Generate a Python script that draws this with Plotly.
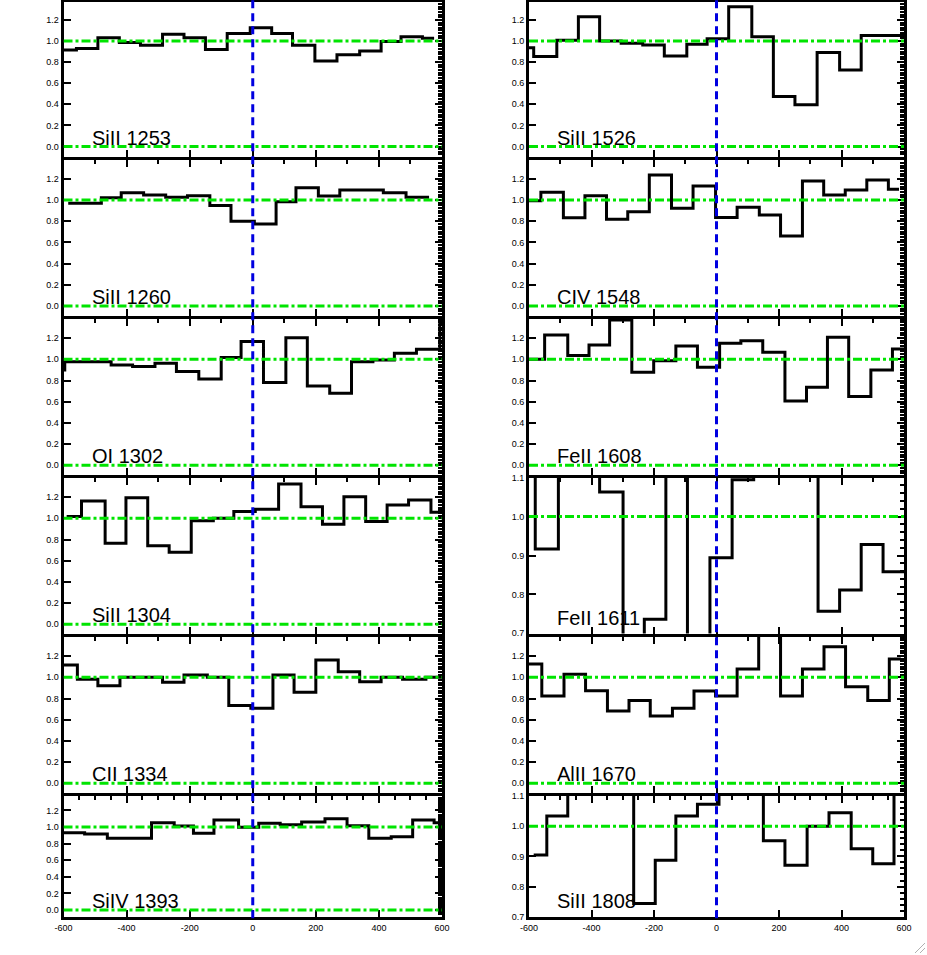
import plotly.graph_objects as go

# ---------------- data (velocity bin edges in km/s, normalized flux) ----------------
x_tick_values = [-600, -400, -200, 0, 200, 400, 600]
y_ticks_wide = [0.0, 0.2, 0.4, 0.6, 0.8, 1.0, 1.2]
y_ticks_narrow = [0.7, 0.8, 0.9, 1.0, 1.1]

sil1253_edges = [-620, -559, -491, -423, -356, -286, -218, -150, -81, -8, 60, 126, 197, 267, 339, 407, 470, 538, 575]
sil1253_flux = [0.915, 0.93, 1.03, 0.985, 0.96, 1.063, 1.03, 0.92, 1.07, 1.126, 1.07, 0.96, 0.81, 0.87, 0.905, 0.995, 1.04, 1.025]

sil1260_edges = [-585, -480, -417, -346, -276, -207, -136, -69, 5, 74, 137, 208, 276, 344, 414, 486, 559]
sil1260_flux = [0.969, 1.022, 1.069, 1.047, 1.025, 1.041, 0.947, 0.80, 0.774, 0.984, 1.116, 1.038, 1.094, 1.094, 1.069, 1.025]

oi1302_edges = [-620, -596, -449, -381, -310, -242, -171, -100, -37, 34, 105, 173, 244, 313, 381, 449, 519, 593, 620]
oi1302_flux = [0.90, 0.978, 0.947, 0.931, 0.962, 0.884, 0.814, 1.016, 1.167, 0.78, 1.204, 0.748, 0.679, 0.978, 0.994, 1.057, 1.094, 1.34]

sil1304_edges = [-590, -543, -468, -402, -333, -265, -195, -125, -60, 8, 82, 153, 221, 289, 358, 426, 494, 565, 620]
sil1304_flux = [1.016, 1.164, 0.764, 1.195, 0.742, 0.679, 0.978, 1.0, 1.063, 1.085, 1.324, 1.11, 0.943, 1.204, 0.969, 1.126, 1.173, 1.057]

cii1334_edges = [-620, -556, -491, -421, -354, -286, -218, -144, -76, -6, 64, 131, 200, 271, 339, 407, 475, 549, 620]
cii1334_flux = [1.116, 0.981, 0.921, 1.0, 1.0, 0.953, 1.022, 1.0, 0.733, 0.708, 1.022, 0.858, 1.164, 1.053, 0.959, 1.0, 0.981, 1.0]

siv1393_edges = [-620, -533, -461, -321, -249, -188, -123, -45, 19, 87, 155, 229, 299, 368, 439, 507, 575, 620]
siv1393_flux = [0.932, 0.916, 0.863, 1.052, 1.012, 0.924, 1.084, 0.996, 1.044, 1.028, 1.06, 1.10, 1.016, 0.863, 0.884, 1.084, 1.052]

sil1526_edges = [-620, -585, -511, -442, -374, -305, -236, -167, -95, -30, 39, 113, 182, 251, 322, 394, 463, 620]
sil1526_flux = [0.937, 0.852, 1.006, 1.23, 1.0, 0.978, 0.962, 0.858, 0.969, 1.022, 1.324, 1.041, 0.475, 0.396, 0.89, 0.726, 1.053]

civ1548_edges = [-620, -562, -490, -421, -352, -284, -215, -144, -75, -3, 66, 137, 205, 275, 343, 412, 481, 550, 584]
civ1548_flux = [0.994, 1.072, 0.833, 1.041, 0.818, 0.89, 1.236, 0.921, 1.132, 0.836, 0.931, 0.858, 0.66, 1.179, 1.047, 1.094, 1.189, 1.101]

feii1608_edges = [-620, -550, -476, -408, -342, -271, -201, -130, -61, 10, 78, 148, 219, 288, 355, 423, 494, 563, 620]
feii1608_flux = [1.0, 1.23, 1.035, 1.135, 1.371, 0.877, 0.987, 1.126, 0.925, 1.151, 1.176, 1.066, 0.607, 0.736, 1.208, 0.648, 0.899, 1.097]

feii1611_edges = [-620, -580, -506, -374, -299, -231, -162, -93, -21, 50, 119, 325, 394, 463, 533, 620]
feii1611_flux = [1.3, 0.917, 1.3, 1.063, 0.5, 0.736, 1.3, 0.5, 0.894, 1.095, 1.3, 0.757, 0.811, 0.928, 0.858]

alii1670_edges = [-620, -559, -488, -419, -349, -280, -212, -141, -72, -3, 66, 135, 205, 275, 344, 413, 484, 553, 590]
alii1670_flux = [1.126, 0.824, 1.028, 0.874, 0.682, 0.78, 0.635, 0.708, 0.871, 0.824, 1.079, 1.5, 0.824, 1.079, 1.289, 0.912, 0.78, 1.173]

sil1808_edges = [-585, -543, -476, -265, -196, -130, -61, 8, 150, 219, 290, 360, 431, 500, 568, 620]
sil1808_flux = [0.905, 1.034, 1.3, 0.744, 0.887, 1.034, 1.073, 1.3, 0.952, 0.871, 1.0, 1.045, 0.925, 0.876, 1.3]

labels = ["SiII 1253", "SiII 1260", "OI 1302", "SiII 1304", "CII 1334", "SiIV 1393",
          "SiII 1526", "CIV 1548", "FeII 1608", "FeII 1611", "AlII 1670", "SiII 1808"]

# ---------------- layout geometry (pixels of the 927x955 page) ----------------
FIG_W, FIG_H = 927, 955
LW = 3                                   # frame line width
col_px = [(63.5, 442.0), (529.0, 904.0)]  # plot-area edges (frame lines sit just outside)
row_bounds = [0, 158, 317, 476, 635, 794.5, 918.3]
# pixel of flux 0.0 and pixels per unit flux, per row (wide panels)
zero_px = [146.5, 306.0, 465.3, 624.3, 783.3, 910.0]
scale_px = [105.5, 106.0, 106.0, 106.0, 106.0, 83.0]
NARROW_LIMITS = (0.6995, 1.1005)

panels = [
    (labels[0], sil1253_edges, sil1253_flux, 0, 0, False),
    (labels[1], sil1260_edges, sil1260_flux, 0, 1, False),
    (labels[2], oi1302_edges, oi1302_flux, 0, 2, False),
    (labels[3], sil1304_edges, sil1304_flux, 0, 3, False),
    (labels[4], cii1334_edges, cii1334_flux, 0, 4, False),
    (labels[5], siv1393_edges, siv1393_flux, 0, 5, False),
    (labels[6], sil1526_edges, sil1526_flux, 1, 0, False),
    (labels[7], civ1548_edges, civ1548_flux, 1, 1, False),
    (labels[8], feii1608_edges, feii1608_flux, 1, 2, False),
    (labels[9], feii1611_edges, feii1611_flux, 1, 3, True),
    (labels[10], alii1670_edges, alii1670_flux, 1, 4, False),
    (labels[11], sil1808_edges, sil1808_flux, 1, 5, True),
]

GREEN = "#00e400"
BLUE = "#0000e0"
TICKFONT = dict(family="Liberation Sans, Arial, sans-serif", size=9, color="black")


def fx(px):
    return px / FIG_W


def fy(py):
    return 1 - py / FIG_H


def ax(prefix, n):
    return prefix + ("" if n == 1 else str(n))


fig = go.Figure()
layout = {}
shapes = []
annotations = []

NP = len(panels)
for i, (label, edges, flux, col, row, narrow) in enumerate(panels):
    n = i + 1
    m = n + NP
    top_px = row_bounds[row] + LW / 2
    bot_px = row_bounds[row + 1] - LW / 2
    xd = [fx(col_px[col][0]), fx(col_px[col][1])]
    yd = [fy(bot_px), fy(top_px)]
    if narrow:
        yr = list(NARROW_LIMITS)
    else:
        z, sc = zero_px[row], scale_px[row]
        yr = [(z - bot_px) / sc, (z - top_px) / sc]
    yt = y_ticks_narrow if narrow else y_ticks_wide
    last_row = row == 5
    top_row = row == 0

    xs = list(edges[:-1]) + [edges[-1]]
    ys = list(flux) + [flux[-1]]
    fig.add_trace(go.Scatter(x=xs, y=ys, mode="lines", line=dict(color="black", width=3, shape="hv"),
                             xaxis=ax("x", n), yaxis=ax("y", n), showlegend=False, hoverinfo="skip"))
    fig.add_trace(go.Scatter(x=[0], y=[1], mode="lines", xaxis=ax("x", m), yaxis=ax("y", m),
                             showlegend=False, hoverinfo="skip"))

    common = dict(showgrid=False, zeroline=False, fixedrange=True, automargin=False)
    layout[ax("xaxis", n)] = dict(
        domain=xd, range=[-600, 600], anchor=ax("y", n), showline=True, linewidth=LW, linecolor="black",
        mirror=True, ticks="inside", ticklen=7, tickwidth=2, tickcolor="black", tickmode="array",
        tickvals=x_tick_values, ticktext=[str(v) for v in x_tick_values], showticklabels=last_row,
        tickfont=TICKFONT, **common)
    layout[ax("yaxis", n)] = dict(
        domain=yd, range=yr, anchor=ax("x", n), showline=True, linewidth=LW, linecolor="black",
        mirror=True, ticks="inside", ticklen=7, tickwidth=2, tickcolor="black", tickmode="array",
        tickvals=yt, ticktext=["%.1f" % v for v in yt], tickfont=TICKFONT, **common)
    top_ticks = "" if top_row else "inside"
    layout[ax("xaxis", m)] = dict(
        overlaying=ax("x", n), side="top", anchor=ax("y", m), range=[-600, 600], showline=False,
        ticks=top_ticks, ticklen=7, tickwidth=2, tickcolor="black", tickmode="array",
        tickvals=x_tick_values,
        minor=dict(tick0=0, dtick=50 if last_row else 100, ticks=top_ticks, ticklen=4, tickwidth=1.5,
                   tickcolor="black"),
        showticklabels=False, **common)
    layout[ax("yaxis", m)] = dict(
        overlaying=ax("y", n), side="right", anchor=ax("x", m), range=yr, showline=False,
        ticks="inside", ticklen=7, tickwidth=2, tickcolor="black", tickmode="array", tickvals=yt,
        minor=dict(tick0=0, dtick=0.02 if narrow else 0.025, ticks="inside", ticklen=4, tickwidth=1.5,
                   tickcolor="black"),
        showticklabels=False, **common)

    for lev in ([1.0] if narrow else [0.0, 1.0]):
        shapes.append(dict(type="line", xref=ax("x", n), yref=ax("y", n), x0=-600, x1=600, y0=lev, y1=lev,
                           line=dict(color=GREEN, width=3, dash="dashdot"), layer="above"))

    annotations.append(dict(text=label, xref=ax("x", n), yref=ax("y", n), x=-517,
                            y=(yr[0] if narrow else 0.0), xanchor="left", yanchor="bottom", showarrow=False,
                            yshift=3 if narrow else -4,
                            font=dict(family="Liberation Sans, Arial, sans-serif", size=20, color="black")))

# blue dashed v = 0 line through each column
for xref in ["x", "x7"]:
    shapes.append(dict(type="line", xref=xref, yref="paper", x0=0, x1=0,
                       y0=fy(row_bounds[-1]), y1=1,
                       line=dict(color=BLUE, width=3, dash="8px,5px"), layer="above"))

# window resize grip in the corner
for k in (4, 9):
    shapes.append(dict(type="line", xref="paper", yref="paper",
                       x0=fx(FIG_W - 3 - k), y0=fy(FIG_H - 2),
                       x1=fx(FIG_W - 2), y1=fy(FIG_H - 3 - k),
                       line=dict(color="#b0b0b0", width=1)))

fig.update_layout(width=FIG_W, height=FIG_H, margin=dict(l=0, r=0, t=0, b=0),
                  paper_bgcolor="white", plot_bgcolor="white", showlegend=False,
                  shapes=shapes, annotations=annotations, **layout)

fig.write_html("out.html", config={"displayModeBar": False},
               post_script="document.body.style.margin='0';")
